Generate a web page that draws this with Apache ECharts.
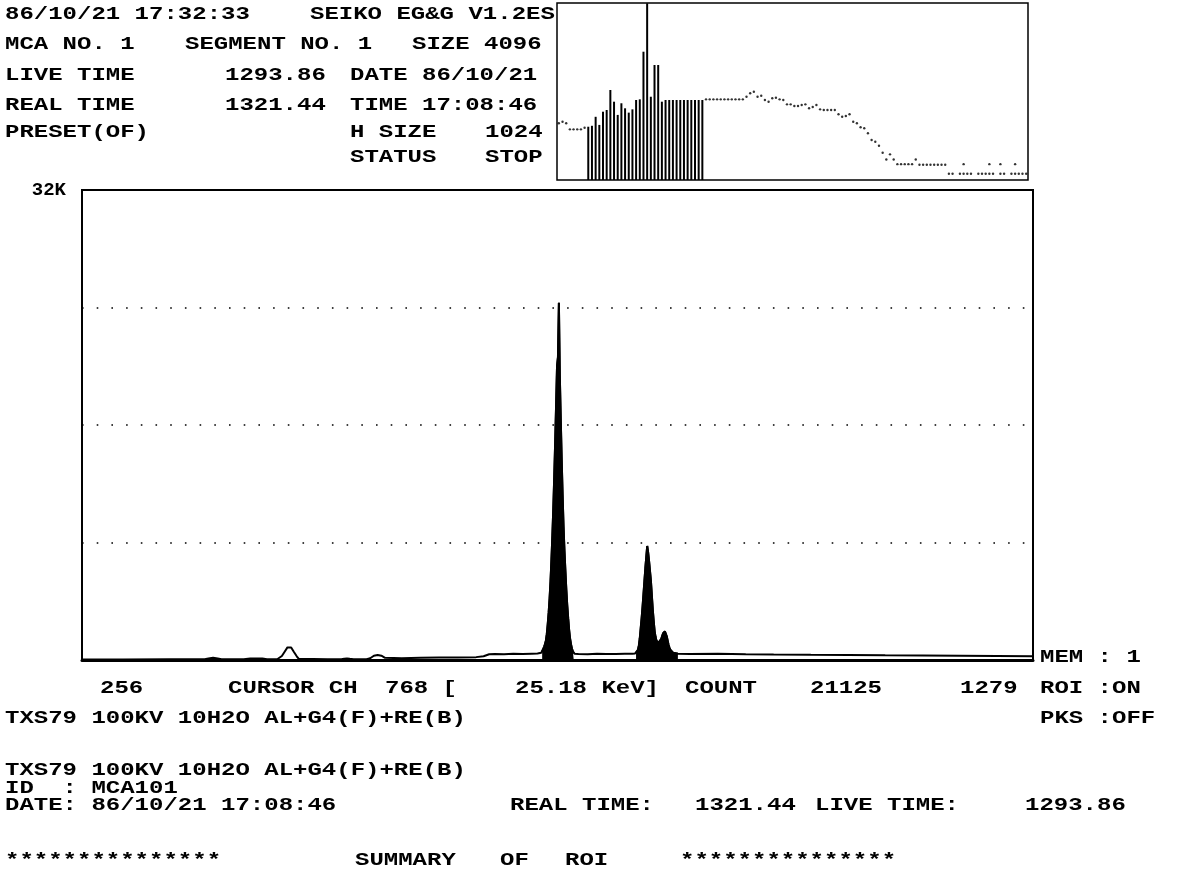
<!DOCTYPE html>
<html>
<head>
<meta charset="utf-8">
<title>MCA spectrum</title>
<script src="https://cdn.jsdelivr.net/npm/echarts@6/dist/echarts.min.js"></script>
<style>
  html, body { margin: 0; padding: 0; background: #fff; }
  #chart { width: 1178px; height: 877px; }
</style>
</head>
<body>
<div id="chart"></div>
<script>
// main spectrum, channel 256..1279, counts
const spectrumChannels = [
  256, 300, 350, 388, 392, 397, 402, 406, 430, 437, 445, 450, 455, 466,
  468, 471, 474, 477, 479, 481, 484, 487, 489, 491, 520, 535, 538, 541, 544, 548,
  562, 566, 570, 574, 578, 582, 600, 620, 640, 660, 680, 688, 694, 700, 710, 720,
  730, 740, 746, 748,
  750, 751, 752, 753, 754, 755, 756, 757, 758, 759, 760, 761, 762, 763, 764, 765,
  766, 767, 768, 769, 770, 771, 772, 773, 774, 775, 776, 777, 778, 779, 780, 781,
  782, 783, 784, 785, 786,
  790, 800, 810, 820, 830, 840, 848, 851,
  852, 853, 854, 855, 856, 857, 858, 859, 860, 861, 862, 863, 864, 865, 866, 867,
  868, 869, 870, 871, 872, 873, 874, 875, 876, 877, 878, 879, 880, 881, 882, 883,
  884, 885, 886, 887, 888, 889, 890, 892, 894, 897,
  910, 940, 970, 1000, 1040, 1080, 1120, 1160, 1200, 1240, 1279
];
const spectrumCounts = [
  40, 40, 50, 50, 100, 150, 100, 50, 50, 110, 100, 110, 60, 50,
  70, 280, 580, 880, 980, 870, 560, 260, 90, 50, 50, 60, 90, 110, 80, 50,
  60, 120, 300, 350, 300, 150, 130, 150, 170, 180, 200, 260, 400, 420, 400, 430,
  420, 440, 450, 500,
  500, 600, 750, 900, 1100, 1350, 1800, 2500, 3300, 4300, 5500, 7000, 8700, 10600, 12800, 15200,
  17800, 20500, 21125, 24900, 19800, 16800, 14000, 11500, 9300, 7600, 6200, 4900, 3800, 2900, 2100, 1500,
  1100, 800, 600, 470, 430,
  420, 400, 430, 410, 420, 440, 430, 460,
  480, 550, 700, 1000, 1500, 2200, 2900, 3700, 4600, 5500, 6400, 7200, 7950, 7500, 6900, 6200,
  5500, 4500, 3500, 2700, 2000, 1600, 1350, 1250, 1200, 1200, 1300, 1450, 1650, 1850, 1950, 2000,
  1900, 1650, 1350, 1050, 850, 700, 600, 500, 450, 430,
  420, 430, 400, 380, 360, 350, 330, 320, 300, 280, 260
];
// regions of interest, drawn filled
const roiRanges = [[751, 785], [852, 897]];

// overview of the whole memory (128 bins of 32 ch), log counts
const insetCounts = [
  40, 44, 40, 27, 27, 27, 27, 30,
  32, 34, 61, 36, 85, 95, 349, 163, 69, 147, 106, 80, 99, 182, 190, 4210,
  98000, 225, 1770, 1770, 163, 182, 182, 182, 182, 182, 182, 182, 182, 182, 182, 182,
  190, 190, 190, 190, 190, 190, 190, 190, 190, 190, 190, 225, 281, 312, 225, 240,
  182, 163, 203, 211, 190, 182, 137, 137, 123, 123, 131, 137, 106, 115, 131, 99,
  95, 95, 95, 95, 72, 61, 64, 72, 44, 40, 31, 29, 21, 13.5, 12, 9.3,
  5.9, 3.8, 5.3, 3.8, 2.8, 2.8, 2.8, 2.8, 2.8, 3.8, 2.7, 2.7, 2.7, 2.7, 2.7, 2.7,
  2.7, 2.7, 1.5, 1.5, null, 1.5, 1.5, 1.5, 1.5, null, 1.5, 1.5, 1.5, 1.5, 1.5, null,
  1.5, 1.5, null, 1.5, 1.5, 1.5, 1.5, 1.5
];
const insetBarBins = [8, 39];
const insetUpperDots = [[110, 2.8], [117, 2.8], [120, 2.8], [124, 2.8]];

// text around the plot
const headerRows = [
  [14, [[5, '86/10/21 17:32:33'], [310, 'SEIKO EG&G V1.2ES']]],
  [44, [[5, 'MCA NO. 1'], [185, 'SEGMENT NO. 1'], [412, 'SIZE 4096']]],
  [75, [[5, 'LIVE TIME'], [225, '1293.86'], [350, 'DATE 86/10/21']]],
  [105, [[5, 'REAL TIME'], [225, '1321.44'], [350, 'TIME 17:08:46']]],
  [132, [[5, 'PRESET(OF)'], [350, 'H SIZE'], [485, '1024']]],
  [157, [[350, 'STATUS'], [485, 'STOP']]]
];
const footerRows = [
  [657, [[1040, 'MEM : 1']]],
  [688, [[100, '256'], [228, 'CURSOR CH'], [385, '768 ['], [515, '25.18 KeV]'],
         [685, 'COUNT'], [810, '21125'], [960, '1279'], [1040, 'ROI :ON']]],
  [718, [[5, 'TXS79 100KV 10H2O AL+G4(F)+RE(B)'], [1040, 'PKS :OFF']]],
  [770, [[5, 'TXS79 100KV 10H2O AL+G4(F)+RE(B)']]],
  [788, [[5, 'ID  : MCA101']]],
  [805, [[5, 'DATE: 86/10/21 17:08:46'], [510, 'REAL TIME:'], [695, '1321.44'],
         [815, 'LIVE TIME:'], [1025, '1293.86']]],
  [860, [[5, '***************'], [355, 'SUMMARY'], [500, 'OF'], [565, 'ROI'],
         [680, '***************']]]
];

const FONT = 'bold 19px "Liberation Mono", "DejaVu Sans Mono", monospace';
const PITCH = 14.4; // printer character pitch in px
const GLYPH = 19 * 0.6;

const makeText = (rows) => {
  const out = [];
  rows.forEach(([y, parts]) => {
    parts.forEach(([x, text]) => {
      out.push({
        type: 'text',
        x: x,
        y: y,
        scaleX: PITCH / GLYPH,
        silent: true,
        style: { text: text, font: FONT, fill: '#000', textAlign: 'left', textVerticalAlign: 'middle' }
      });
    });
  });
  return out;
};

const spectrum = spectrumChannels.map((ch, i) => [ch, spectrumCounts[i]]);
const roiSeries = roiRanges.map(([a, b]) => ({
  type: 'line',
  xAxisIndex: 0,
  yAxisIndex: 0,
  data: spectrum.filter((p) => p[0] >= a && p[0] <= b),
  symbol: 'none',
  lineStyle: { color: '#000', width: 2 },
  areaStyle: { color: '#000', opacity: 1, origin: 'start' },
  z: 3
}));

const bins = insetCounts.map((v, i) => String(i));
const barData = insetCounts.map((v, i) => (i >= insetBarBins[0] && i <= insetBarBins[1] ? v : null));
const dotData = insetCounts.map((v, i) => (i >= insetBarBins[0] && i <= insetBarBins[1] ? null : v));

const chart = echarts.init(document.getElementById('chart'));

const option = {
  animation: false,
  backgroundColor: '#fff',
  grid: [
    { left: 82, top: 190, width: 951, height: 470, show: true, borderColor: '#000', borderWidth: 2 },
    { left: 557, top: 3, width: 471, height: 177, show: true, borderColor: '#000', borderWidth: 1.5 }
  ],
  xAxis: [
    {
      gridIndex: 0,
      type: 'value',
      min: 256,
      max: 1279,
      axisLine: { show: true, lineStyle: { color: '#000', width: 3 } },
      axisTick: { show: false },
      axisLabel: { show: false },
      splitLine: { show: false }
    },
    {
      gridIndex: 1,
      type: 'category',
      data: bins,
      boundaryGap: true,
      show: false
    }
  ],
  yAxis: [
    {
      gridIndex: 0,
      type: 'value',
      min: 0,
      max: 32768,
      interval: 8192,
      axisLine: { show: true, lineStyle: { color: '#000', width: 2 } },
      axisTick: { show: false },
      axisLabel: {
        margin: 16,
        color: '#000',
        fontFamily: '"Liberation Mono", monospace',
        fontWeight: 'bold',
        fontSize: 19,
        formatter: (v) => (v === 32768 ? '32K' : '')
      },
      splitLine: { show: true, lineStyle: { color: '#000', width: 1.6, type: [1.6, 13.1] } }
    },
    {
      gridIndex: 1,
      type: 'log',
      min: 1,
      max: 100000,
      show: false
    }
  ],
  graphic: makeText(headerRows).concat(makeText(footerRows)),
  series: [
    {
      type: 'line',
      xAxisIndex: 0,
      yAxisIndex: 0,
      data: spectrum,
      symbol: 'none',
      lineStyle: { color: '#000', width: 2 },
      z: 2
    },
    ...roiSeries,
    {
      type: 'bar',
      xAxisIndex: 1,
      yAxisIndex: 1,
      data: barData,
      barWidth: 2,
      itemStyle: { color: '#000' }
    },
    {
      type: 'scatter',
      xAxisIndex: 1,
      yAxisIndex: 1,
      data: dotData,
      symbolSize: 2.4,
      itemStyle: { color: '#000' }
    },
    {
      type: 'scatter',
      xAxisIndex: 1,
      yAxisIndex: 1,
      data: insetUpperDots,
      symbolSize: 2.4,
      itemStyle: { color: '#000' }
    }
  ]
};

chart.setOption(option);
</script>
</body>
</html>
